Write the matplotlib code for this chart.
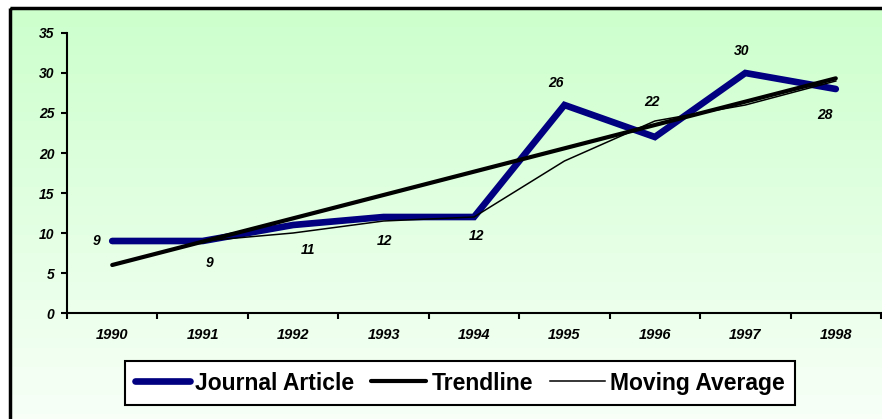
import numpy as np
import pandas as pd
import matplotlib
matplotlib.use('Agg')
import matplotlib.pyplot as plt
from matplotlib.patches import Rectangle

plt.rcParams['font.family'] = ['Liberation Sans', 'DejaVu Sans']

years = ['1990', '1991', '1992', '1993', '1994', '1995', '1996', '1997', '1998']
articles = [9, 9, 11, 12, 12, 26, 22, 30, 28]
y_ticks = [0, 5, 10, 15, 20, 25, 30, 35]

# label offsets in points (dx, dy) relative to each data point
label_offsets = [(-11, 0), (5, -16), (11, -18), (1, -17), (2, -14),
                 (-6, 16), (-2, 25), (-3, 16), (-8, -19)]

x = np.arange(len(years))
slope, intercept = np.polyfit(x, articles, 1)
trend = slope * x + intercept
moving = pd.Series(articles).rolling(2).mean()

fig = plt.figure(figsize=(8.82, 4.19), dpi=100)
W, H = 882, 419

# gradient background with black frame (chart area cropped at right/bottom)
bg = fig.add_axes([0, 0, 1, 1], zorder=0)
bg.set_xlim(0, W)
bg.set_ylim(H, 0)
bg.axis('off')
grad = np.linspace(0, 1, 256).reshape(-1, 1)
top = np.array([204, 255, 204]) / 255
bot = np.array([248, 255, 248]) / 255
img = top + (bot - top) * grad[..., None]
bg.imshow(img, extent=[10, W + 5, H + 5, 8], aspect='auto')
bg.add_patch(Rectangle((10, 8), W + 20, H + 20, fill=False, lw=2.5, ec='black'))

ax = fig.add_axes([67 / W, (H - 313) / H, (881 - 67) / W, (313 - 33) / H], zorder=1)
ax.patch.set_alpha(0)

ax.plot(x, articles, color='#000080', lw=4.8, solid_capstyle='round',
        solid_joinstyle='miter', label='Journal Article', zorder=3)
ax.plot(x, trend, color='black', lw=3, solid_capstyle='round', label='Trendline', zorder=4)
ax.plot(x, moving, color='black', lw=1.1, label='Moving Average', zorder=5)

for xi, yi, (dx, dy) in zip(x, articles, label_offsets):
    ax.annotate(str(yi), (xi, yi), xytext=(dx, dy), textcoords='offset points',
                ha='center', va='center', fontsize=10, fontweight='bold', style='italic')

ax.set_xlim(-0.5, len(years) - 0.5)
ax.set_ylim(0, 35)
ax.set_yticks(y_ticks)
ax.set_yticklabels([str(t) for t in y_ticks], fontsize=10, fontweight='bold', style='italic')
ax.set_xticks(x)
ax.set_xticklabels(years, fontsize=10.5, fontweight='bold', style='italic')
ax.set_xticks(np.arange(len(years) + 1) - 0.5, minor=True)
ax.tick_params(axis='x', which='major', length=0, pad=11)
ax.tick_params(axis='x', which='minor', length=4, width=1.5)
ax.tick_params(axis='y', length=4, width=1.5, pad=5)
for s in ['top', 'right']:
    ax.spines[s].set_visible(False)
for s in ['left', 'bottom']:
    ax.spines[s].set_linewidth(1.5)

leg = fig.legend(loc='center', bbox_to_anchor=(460 / W, (H - 383) / H), ncol=3,
                 prop={'weight': 'bold', 'size': 16.5}, frameon=True, fancybox=False,
                 handlelength=2.4, handletextpad=0.22, columnspacing=0.75,
                 borderpad=0.45, borderaxespad=0)
leg.get_frame().set_edgecolor('black')
leg.get_frame().set_linewidth(1.5)
leg.get_frame().set_facecolor('white')
leg.get_frame().set_alpha(1)

fig.savefig('out.png', dpi=100)
